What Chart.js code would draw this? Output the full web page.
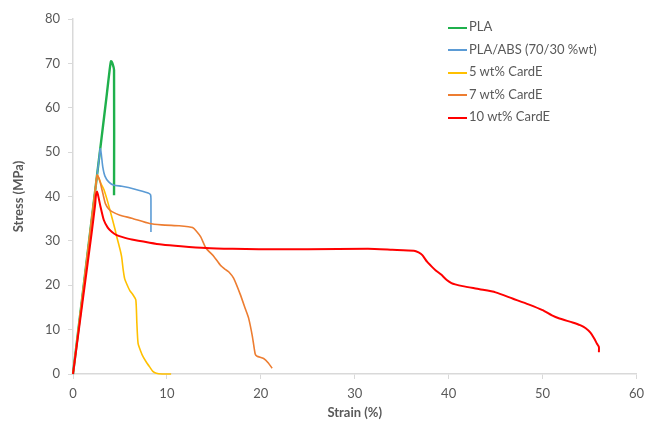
<!DOCTYPE html>
<html>
<head>
<meta charset="utf-8">
<script src="https://cdn.jsdelivr.net/npm/chart.js@4/dist/chart.umd.min.js"></script>
<style>
    body { margin: 0; background: #fff; }
    #wrap { position: relative; width: 651px; height: 422px; }
    #legend { position: absolute; left: 448px; top: 15px; font: 13px Lato, sans-serif; color: #595959; }
    #legend div { height: 22.5px; line-height: 22px; white-space: nowrap; }
    #legend span { display: inline-block; width: 19px; height: 2px; vertical-align: middle; margin-right: 2px; }
</style>
</head>
<body>
<div id="wrap">
    <canvas id="chart" width="651" height="422"></canvas>
    <div id="legend"></div>
</div>
<script>
// ==== Dữ liệu ====
const seriesNames = ["PLA", "PLA/ABS (70/30 %wt)", "5 wt% CardE", "7 wt% CardE", "10 wt% CardE"];
const seriesColors = ["#1fb04c", "#5b9bd5", "#ffc000", "#ed7d31", "#ff0000"];
const seriesWidths = [2.4, 1.6, 1.6, 1.6, 2];

const xTicks = [0, 10, 20, 30, 40, 50, 60];
const yTicks = [0, 10, 20, 30, 40, 50, 60, 70, 80];

const plaStrain = [0, 1, 2, 3, 3.6, 3.9, 4.05, 4.2, 4.37, 4.37];
const plaStress = [0, 17.5, 35, 52.5, 63, 68.5, 70.5, 70, 68.5, 40.3];

const absStrain = [0, 1, 2, 2.6, 2.8, 2.89, 3.0, 3.17, 3.4, 3.8, 4.3, 5.2, 6.5, 8.0, 8.25, 8.3, 8.3];
const absStress = [0, 17.5, 35, 45.5, 49, 50.8, 49.8, 46.7, 44.6, 43.3, 42.6, 42.3, 41.7, 40.8, 40.4, 39.5, 32];

const card5Strain = [0, 1, 2, 2.4, 2.57, 2.75, 3.0, 3.3, 3.8, 4.5, 4.65, 5.03, 5.18, 5.35, 5.5, 5.7, 6.05, 6.4, 6.69, 6.8, 6.93, 7.2, 7.46, 7.8, 8.16, 8.5, 8.87, 9.5, 10.45];
const card5Stress = [0, 17.5, 35, 42, 44.8, 44.1, 42.8, 41.5, 38, 32.4, 31, 27.9, 26.4, 23.4, 21.5, 20.4, 18.8, 17.8, 16.7, 11.5, 6.9, 5.2, 3.9, 2.7, 1.6, 0.6, 0.15, 0, 0];

const card7Strain = [0, 1, 2, 2.4, 2.57, 2.75, 2.93, 3.2, 3.45, 3.8, 4.15, 5, 6.26, 8.16, 9.43, 11.3, 12.3, 12.73, 13.1, 13.6, 14.15, 15.0, 15.7, 16.2, 16.6, 17.1, 17.8, 18.4, 18.7, 19.1, 19.4, 19.6, 20.3, 20.8, 21.2];
const card7Stress = [0, 17.5, 35, 42, 44.8, 44.2, 42.9, 40.5, 38.4, 37.2, 36.6, 35.8, 35.1, 33.9, 33.6, 33.4, 33.2, 33.0, 32.3, 30.9, 28.4, 26.5, 24.5, 23.6, 23.0, 21.6, 18.0, 14.4, 12.6, 8.5, 4.5, 4.0, 3.5, 2.5, 1.3];

const card10Strain = [0, 1, 2, 2.35, 2.45, 2.57, 2.68, 2.93, 3.28, 3.7, 4.15, 4.65, 5.2, 6.26, 8.16, 9.43, 11.5, 14.15, 17, 19.8, 25, 31.4, 34, 36.3, 36.8, 37.2, 37.7, 38.2, 38.6, 39.2, 39.8, 40.3, 40.7, 41.5, 43.3, 45, 46.8, 48.5, 50.0, 51.0, 51.8, 53.2, 54.0, 54.6, 55.1, 55.5, 55.8, 56.0, 56.0];
const card10Stress = [0, 16, 32, 38, 40.3, 41.1, 40.2, 37.7, 34.7, 33.0, 32.0, 31.3, 30.9, 30.3, 29.6, 29.2, 28.8, 28.4, 28.2, 28.1, 28.1, 28.2, 28.0, 27.8, 27.4, 26.8, 25.3, 24.2, 23.4, 22.4, 21.2, 20.5, 20.2, 19.8, 19.1, 18.4, 17.0, 15.7, 14.4, 13.2, 12.5, 11.6, 11.0, 10.3, 9.3, 8.0, 6.8, 6.1, 4.9];

const strainSets = [plaStrain, absStrain, card5Strain, card7Strain, card10Strain];
const stressSets = [plaStress, absStress, card5Stress, card7Stress, card10Stress];

// ==== Chú giải HTML ====
const legendBox = document.getElementById("legend");
seriesNames.forEach((name, i) => {
    const row = document.createElement("div");
    row.innerHTML = `<span style="background:${seriesColors[i]}"></span>${name}`;
    legendBox.appendChild(row);
});

const axisColor = "#d9d9d9";
const textColor = "#595959";
const tickFont = { family: "Lato", size: 13 };
const titleFont = { family: "Lato", size: 13, weight: "bold" };

const datasets = seriesNames.map((name, i) => ({
    label: name,
    data: strainSets[i].map((x, k) => ({ x, y: stressSets[i][k] })),
    borderColor: seriesColors[i],
    backgroundColor: seriesColors[i],
    borderWidth: seriesWidths[i],
    showLine: true,
    pointRadius: 0,
    tension: 0.2,
    clip: 4,
    order: seriesNames.length - i, // chuỗi sau vẽ đè lên chuỗi trước
}));

new Chart(document.getElementById("chart"), {
    type: "scatter",
    data: { datasets },
    options: {
        responsive: false,
        animation: false,
        layout: { padding: { top: 19, right: 9, left: 0, bottom: 0 } },
        plugins: { legend: { display: false }, tooltip: { enabled: false } },
        scales: {
            x: {
                type: "linear",
                min: 0,
                max: 60,
                afterBuildTicks: (s) => { s.ticks = xTicks.map((v) => ({ value: v })); },
                afterFit: (s) => { s.height = 48; },
                grid: { drawOnChartArea: false, drawTicks: true, tickLength: 5, color: axisColor },
                border: { color: axisColor, width: 1.5 },
                ticks: { font: tickFont, color: textColor, padding: 7, maxRotation: 0 },
                title: { display: true, text: "Strain (%)", font: titleFont, color: textColor, padding: { top: 0, bottom: 1 } },
            },
            y: {
                type: "linear",
                min: 0,
                max: 80,
                afterBuildTicks: (s) => { s.ticks = yTicks.map((v) => ({ value: v })); },
                afterFit: (s) => { s.width = 73; },
                grid: { drawOnChartArea: false, drawTicks: true, tickLength: 5, color: axisColor },
                border: { color: axisColor, width: 1.5 },
                ticks: { font: tickFont, color: textColor, padding: 8 },
                title: { display: true, text: "Stress (MPa)", font: titleFont, color: textColor, padding: { top: 11, bottom: 0 } },
            },
        },
    },
});
</script>
</body>
</html>
